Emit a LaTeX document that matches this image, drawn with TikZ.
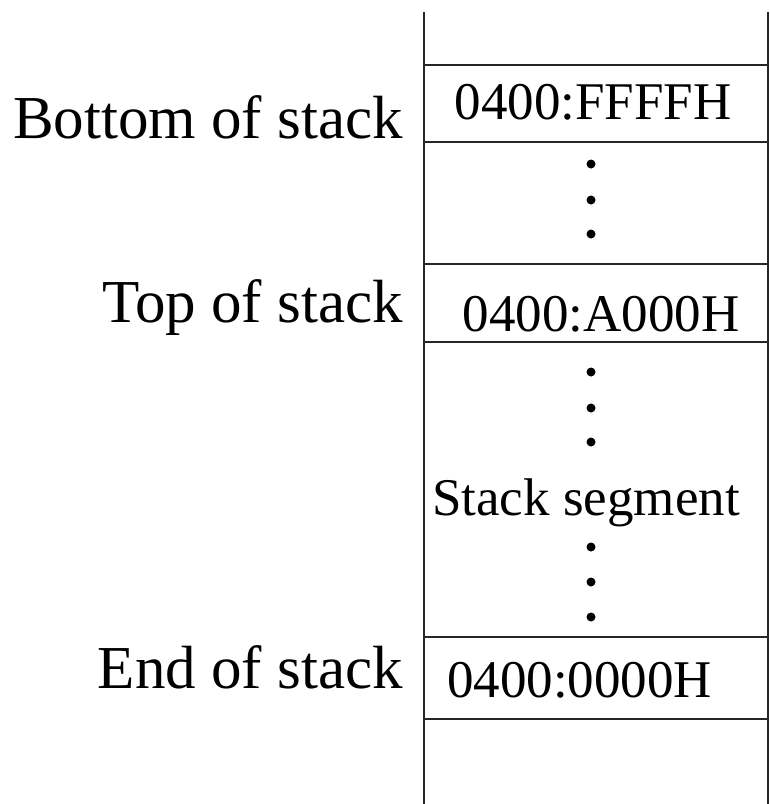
\documentclass[tikz,border=0pt]{standalone}
\usepackage{fontspec}
\setmainfont{Liberation Serif}
\begin{document}
\begin{tikzpicture}[x=1pt,y=-1pt,
  gridline/.style={line width=2pt,draw=black!85},
  rowline/.style={line width=2.5pt,draw=black!85},
  lbl/.style={inner sep=0pt,anchor=base east,font=\fontsize{61}{70}\selectfont},
  addr/.style={inner sep=0pt,anchor=base,font=\fontsize{53}{60}\selectfont},
  dotmark/.style={circle,fill=black,inner sep=0pt,minimum size=9pt}]
\useasboundingbox (0,0) rectangle (770,804);
% columns
\coordinate (tl) at (424,12);
\coordinate (bl) at (424,804);
\coordinate (tr) at (768,12);
\coordinate (br) at (768,804);
\draw[gridline] (tl) -- (bl);
\draw[gridline] (tr) -- (br);
% row separators
\foreach \yy/\nm in {65/a,142/b,264/c,342/d,637/e,719/f}{
  \coordinate (L\nm) at (424,\yy);
  \coordinate (R\nm) at (768,\yy);
  \draw[rowline] (L\nm) -- (R\nm);
}
% labels
\node[lbl] (bottomlbl) at (403,138) {Bottom of stack};
\node[lbl] (toplbl) at (403,322) {Top of stack};
\node[lbl] (endlbl) at (403,688) {End of stack};
% addresses
\node[addr] (addrF) at (593,119) {0400:FFFFH};
\node[addr] (addrA) at (601,331) {0400:A000H};
\node[addr,anchor=base west] (addr0) at (447,697) {0400:0000H};
\node[addr] (seg) at (586,515) {Stack segment};
% dots
\foreach \yy [count=\i] in {164,200,234,372,408,442,547,582,617}{
  \node[dotmark] (d\i) at (591,\yy) {};
}
\end{tikzpicture}
\end{document}
